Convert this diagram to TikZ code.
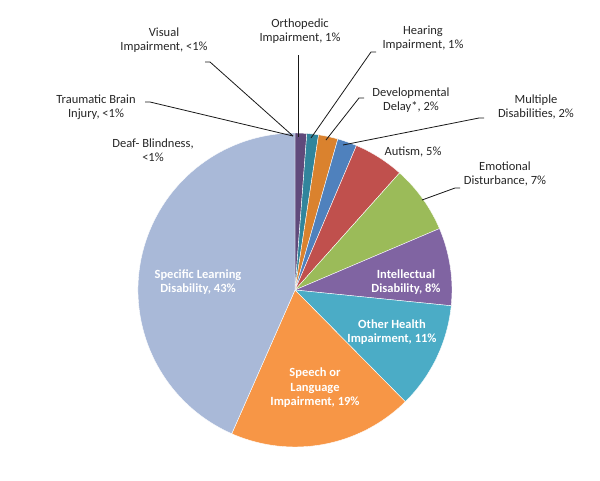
\documentclass[tikz,border=0pt]{standalone}
\usepackage{fontspec}
\setmainfont{Carlito}
\begin{document}
\begin{tikzpicture}[x=1pt,y=-1pt,
  lbl/.style={font=\fontsize{12.5}{14.5}\selectfont, align=center, text=black!85, inner sep=1pt},
  inl/.style={font=\fontsize{12.5}{14.5}\selectfont\bfseries, align=center, text=white, inner sep=1pt},
  lead/.style={draw=black!90, line width=0.8pt}]
\useasboundingbox (0,0) rectangle (600,480);
\definecolor{cpurA}{HTML}{604A7B}
\definecolor{ctealA}{HTML}{31859C}
\definecolor{corgA}{HTML}{DA822E}
\definecolor{cblue}{HTML}{4F81BD}
\definecolor{cred}{HTML}{C0504D}
\definecolor{cgreen}{HTML}{9BBB59}
\definecolor{cpur}{HTML}{8064A2}
\definecolor{cteal}{HTML}{4BACC6}
\definecolor{corg}{HTML}{F79646}
\definecolor{clb}{HTML}{A9B9D8}
\coordinate (c) at (295,290);
\def\R{157}
\foreach \a/\b/\col in {0/1.2/cpurA, 1.2/2.4/ctealA, 2.4/4.4/corgA, 4.4/6.4/cblue, 6.4/11.6/cred, 11.6/18.6/cgreen, 18.6/26.6/cpur, 26.6/37.6/cteal, 37.6/56.6/corg, 56.6/100/clb}{
  \pgfmathsetmacro\sa{-(90-3.6*\a)}
  \pgfmathsetmacro\ea{-(90-3.6*\b)}
  \fill[\col, draw=white, line width=0.4pt] (c) -- ++(\sa:\R) arc[start angle=\sa, end angle=\ea, radius=\R] -- cycle;
}
\coordinate (top) at (293,136);
\coordinate (pO) at (298,137);
\coordinate (pH) at (311,138);
\coordinate (pD) at (326,140);
\coordinate (pM) at (343,145);
\coordinate (pE) at (422,200);
% leader starts (near text)
\coordinate (sV) at (210,62);
\coordinate (sT) at (150,102);
\coordinate (sO) at (298,55);
\coordinate (sH) at (371,52);
\coordinate (sD) at (359,98);
\coordinate (sM) at (479,118);
\coordinate (sE) at (455,188);
% outside labels
\node[lbl] (vis) at (164,40) {Visual\\Impairment, <1\%};
\node[lbl] (tbi) at (96,107) {Traumatic Brain\\Injury, <1\%};
\node[lbl] (db) at (153,150) {Deaf- Blindness,\\<1\%};
\node[lbl] (ort) at (300,31) {Orthopedic\\Impairment, 1\%};
\node[lbl] (hea) at (423,38) {Hearing\\Impairment, 1\%};
\node[lbl] (dev) at (411,100) {Developmental\\Delay*, 2\%};
\node[lbl] (mul) at (536,107) {Multiple\\Disabilities, 2\%};
\node[lbl] (aut) at (413,152) {Autism, 5\%};
\node[lbl] (emo) at (505,174) {Emotional\\Disturbance, 7\%};
% inside labels
\node[inl] (sld) at (198,282) {Specific Learning\\Disability, 43\%};
\node[inl] (int) at (406,282) {Intellectual\\Disability, 8\%};
\node[inl] (oth) at (392,332) {Other Health\\Impairment, 11\%};
\node[inl] (spe) at (315,388) {Speech or\\Language\\Impairment, 19\%};
% leaders
\draw[lead] (sV) ++(-5,0) -- (sV) -- (top);
\draw[lead] (sT) ++(-5,0) -- (sT) -- (top);
\draw[lead] (sO) -- (pO);
\draw[lead] (sH) ++(5,0) -- (sH) -- (pH);
\draw[lead] (sD) ++(5,0) -- (sD) -- (pD);
\draw[lead] (sM) ++(5,0) -- (sM) -- (pM);
\draw[lead] (sE) ++(5,0) -- (sE) -- (pE);
\end{tikzpicture}
\end{document}
